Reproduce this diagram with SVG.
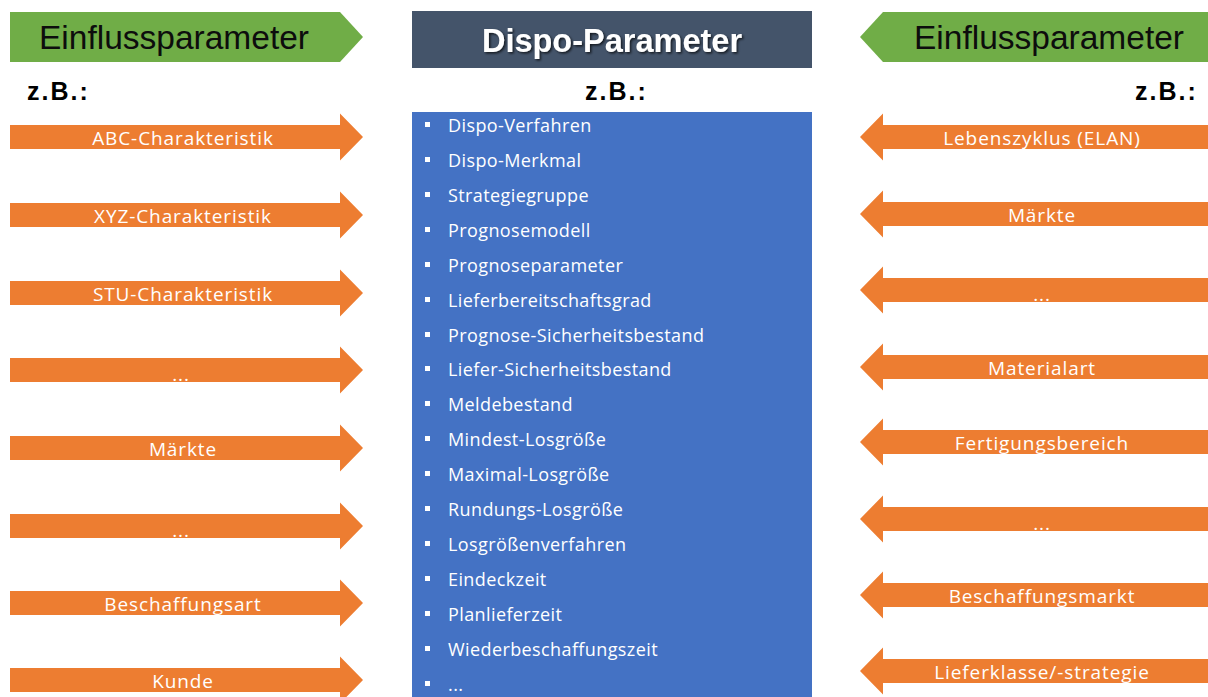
<svg xmlns="http://www.w3.org/2000/svg" width="1208" height="697" viewBox="0 0 1208 697">
<defs>
<style>
.green{fill:#70AD47}
.orange{fill:#ED7D31}
.hdr{font-family:"Liberation Sans",Arial,sans-serif;font-size:33.5px;fill:#0D0D0D;text-anchor:middle}
.zb{font-family:"Liberation Sans",Arial,sans-serif;font-size:25px;font-weight:bold;fill:#000;letter-spacing:2px}
.lbl{font-family:"Open Sans",sans-serif;font-size:19px;fill:#fff;text-anchor:middle;letter-spacing:0.9px}
.item{font-family:"Open Sans",sans-serif;font-size:18px;fill:#fff;letter-spacing:0.4px}
.bul{fill:#fff}
</style>
<filter id="sh" x="-10%" y="-30%" width="120%" height="160%">
<feDropShadow dx="1.5" dy="1.5" stdDeviation="1" flood-color="#000" flood-opacity="0.7"/>
</filter>
<path id="ra" d="M0,-12 H330 V-23.5 L353,0 L330,23.5 V12 H0 Z"/>
<path id="la" d="M0,0 L23,-23.5 V-12 H360 V12 H23 V23.5 Z"/>
</defs>
<rect width="1208" height="697" fill="#fff"/>

<g id="left-header">
<path class="green" d="M10,12 H340 L363,37 L340,62 H10 Z"/>
<text class="hdr" x="174" y="49">Einflussparameter</text>
<text class="zb" x="27" y="100">z.B.:</text>
</g>

<g id="center-header">
<rect x="412" y="11" width="400" height="57" fill="#44546A"/>
<text x="612" y="52" font-family="Liberation Sans,Arial,sans-serif" font-size="32.5" font-weight="bold" fill="#fff" text-anchor="middle" filter="url(#sh)">Dispo-Parameter</text>
<text class="zb" x="585" y="100">z.B.:</text>
</g>

<g id="right-header">
<path class="green" d="M1208,12 H883 L860,37 L883,62 H1208 Z"/>
<text class="hdr" x="1049" y="49">Einflussparameter</text>
<text class="zb" x="1135" y="100">z.B.:</text>
</g>

<g id="dispo-list">
<rect x="412" y="112" width="400" height="590" fill="#4472C4"/>
<g class="bul">
<rect x="425" y="122" width="5" height="5"/>
<rect x="425" y="157" width="5" height="5"/>
<rect x="425" y="192" width="5" height="5"/>
<rect x="425" y="227" width="5" height="5"/>
<rect x="425" y="262" width="5" height="5"/>
<rect x="425" y="297" width="5" height="5"/>
<rect x="425" y="332" width="5" height="5"/>
<rect x="425" y="366" width="5" height="5"/>
<rect x="425" y="401" width="5" height="5"/>
<rect x="425" y="436" width="5" height="5"/>
<rect x="425" y="471" width="5" height="5"/>
<rect x="425" y="506" width="5" height="5"/>
<rect x="425" y="541" width="5" height="5"/>
<rect x="425" y="576" width="5" height="5"/>
<rect x="425" y="611" width="5" height="5"/>
<rect x="425" y="646" width="5" height="5"/>
<rect x="425" y="681" width="5" height="5"/>
</g>
<text class="item" x="448" y="132">Dispo-Verfahren</text>
<text class="item" x="448" y="167">Dispo-Merkmal</text>
<text class="item" x="448" y="202">Strategiegruppe</text>
<text class="item" x="448" y="237">Prognosemodell</text>
<text class="item" x="448" y="272">Prognoseparameter</text>
<text class="item" x="448" y="307">Lieferbereitschaftsgrad</text>
<text class="item" x="448" y="342">Prognose-Sicherheitsbestand</text>
<text class="item" x="448" y="376">Liefer-Sicherheitsbestand</text>
<text class="item" x="448" y="411">Meldebestand</text>
<text class="item" x="448" y="446">Mindest-Losgröße</text>
<text class="item" x="448" y="481">Maximal-Losgröße</text>
<text class="item" x="448" y="516">Rundungs-Losgröße</text>
<text class="item" x="448" y="551">Losgrößenverfahren</text>
<text class="item" x="448" y="586">Eindeckzeit</text>
<text class="item" x="448" y="621">Planlieferzeit</text>
<text class="item" x="448" y="656">Wiederbeschaffungszeit</text>
<text class="item" x="448" y="691">...</text>
</g>

<g id="left-arrows">
<g id="l1"><use href="#ra" class="orange" x="10" y="137"/><text class="lbl" x="183" y="145">ABC-Charakteristik</text></g>
<g id="l2"><use href="#ra" class="orange" x="10" y="215"/><text class="lbl" x="183" y="223">XYZ-Charakteristik</text></g>
<g id="l3"><use href="#ra" class="orange" x="10" y="293"/><text class="lbl" x="183" y="301">STU-Charakteristik</text></g>
<g id="l4"><use href="#ra" class="orange" x="10" y="370"/><text class="lbl" x="181" y="381">...</text></g>
<g id="l5"><use href="#ra" class="orange" x="10" y="448"/><text class="lbl" x="183" y="456">Märkte</text></g>
<g id="l6"><use href="#ra" class="orange" x="10" y="526"/><text class="lbl" x="181" y="537">...</text></g>
<g id="l7"><use href="#ra" class="orange" x="10" y="603"/><text class="lbl" x="183" y="611">Beschaffungsart</text></g>
<g id="l8"><use href="#ra" class="orange" x="10" y="680"/><text class="lbl" x="183" y="688">Kunde</text></g>
</g>

<g id="right-arrows">
<g id="r1"><use href="#la" class="orange" x="860" y="137"/><text class="lbl" x="1042" y="145">Lebenszyklus (ELAN)</text></g>
<g id="r2"><use href="#la" class="orange" x="860" y="214"/><text class="lbl" x="1042" y="222">Märkte</text></g>
<g id="r3"><use href="#la" class="orange" x="860" y="290"/><text class="lbl" x="1042" y="301">...</text></g>
<g id="r4"><use href="#la" class="orange" x="860" y="367"/><text class="lbl" x="1042" y="375">Materialart</text></g>
<g id="r5"><use href="#la" class="orange" x="860" y="442"/><text class="lbl" x="1042" y="450">Fertigungsbereich</text></g>
<g id="r6"><use href="#la" class="orange" x="860" y="519"/><text class="lbl" x="1042" y="530">...</text></g>
<g id="r7"><use href="#la" class="orange" x="860" y="595"/><text class="lbl" x="1042" y="603">Beschaffungsmarkt</text></g>
<g id="r8"><use href="#la" class="orange" x="860" y="671"/><text class="lbl" x="1042" y="679">Lieferklasse/-strategie</text></g>
</g>
</svg>
